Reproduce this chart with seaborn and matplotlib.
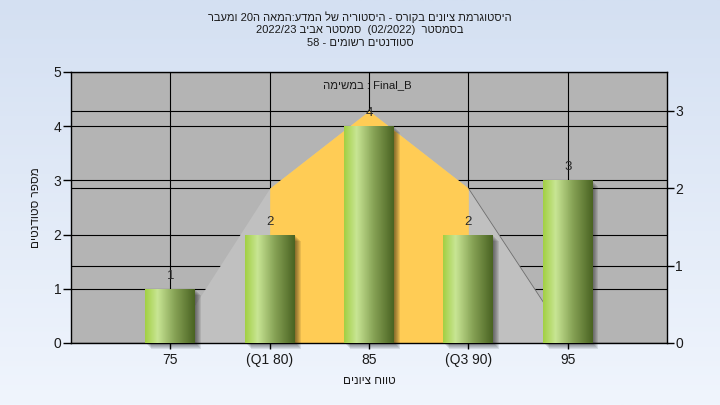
import re
import numpy as np
import pandas as pd
import matplotlib
matplotlib.use("Agg")
import matplotlib.pyplot as plt
import seaborn as sns
from matplotlib import transforms
from matplotlib.patches import Rectangle

# ---------------- data ----------------
categories = ["75", "(Q1 80)", "85", "(Q3 90)", "95"]
counts = [1, 2, 4, 2, 3]
curve = [0.0, 2.0, 3.0, 2.0, 0.05]          # right-axis (normal curve) values
quartile_mask = [False, True, True, True, False]
left_ticks = [0, 1, 2, 3, 4, 5]
right_ticks = [0, 1, 2, 3]

title_lines = [
    "היסטוגרמת ציונים בקורס - היסטוריה של המדע:המאה ה20 ומעבר",
    "בסמסטר  (02/2022)  סמסטר אביב 2022/23",
    "סטודנטים רשומים - 58",
]
series_word = "במשימה"
series_name = "Final_B"
x_label = "טווח ציונים"
y_label = "מספר סטודנטים"

MIRROR = {"(": ")", ")": "(", "[": "]", "]": "["}


def rtl(s):
    """Visual order of a right-to-left paragraph (matplotlib has no bidi)."""
    toks = re.findall(r"[A-Za-z0-9_]+(?:[/.,][A-Za-z0-9_]+)*|.", s)
    return "".join(MIRROR.get(t, t) for t in reversed(toks))


sns.set_theme(style="white")
plt.rcParams["font.family"] = ["Liberation Sans", "DejaVu Sans"]

fig = plt.figure(figsize=(7.2, 4.05), dpi=100)

# background gradient
bg = fig.add_axes([0, 0, 1, 1], zorder=-10)
top_c = np.array([212, 224, 242]) / 255
bot_c = np.array([240, 245, 253]) / 255
t = np.linspace(0, 1, 256)[:, None]
grad = (top_c[None, :] * (1 - t) + bot_c[None, :] * t)[:, None, :]
bg.imshow(grad, aspect="auto", extent=[0, 1, 0, 1])
bg.axis("off")

ax = fig.add_axes([71 / 720, 1 - 343 / 405, 596 / 720, 271 / 405])
ax.set_facecolor("#b4b4b4")

df = pd.DataFrame({"grade": categories, "count": counts})
sns.barplot(data=df, x="grade", y="count", ax=ax, width=0.5,
            color="#9acd32", saturation=1, zorder=3)

ax2 = ax.twinx()
ax2.patch.set_visible(False)

xpos = np.arange(len(categories))

# fills (right-axis scale) drawn on ax beneath bars
ax.fill_between(xpos, 0, curve, color="#c0c0c0", lw=0,
                transform=ax2.transData, zorder=1.0)
ax.fill_between(xpos, 0, curve, where=quartile_mask, color="#ffcc55", lw=0,
                transform=ax2.transData, zorder=1.1)
ax.plot(xpos[3:], curve[3:], color="#6e6e6e", lw=0.6,
        transform=ax2.transData, zorder=1.2)

# grid lines
ax.set_axisbelow(True)
ax.grid(True, axis="both", color="black", lw=0.8)
for gl in ax.get_xgridlines() + ax.get_ygridlines():
    gl.set_zorder(0.5)
blend = transforms.blended_transform_factory(ax.transAxes, ax2.transData)
ax.hlines(right_ticks, 0, 1, transform=blend, color="black", lw=0.8, zorder=0.6)

# bars: gradient + shadow
cmap = matplotlib.colors.LinearSegmentedColormap.from_list(
    "barg", [(0.0, "#a2d043"), (0.25, "#c8e594"), (0.6, "#86a255"), (1.0, "#4a6322")])
gimg = cmap(np.linspace(0, 1, 128))[None, :, :]
bars = list(ax.containers[0])
for p in bars:
    x0, y0 = p.get_x(), p.get_y()
    w, h = p.get_width(), p.get_height()
    for d in range(1, 7):
        off = transforms.ScaledTranslation(d / 100, -d / 100, fig.dpi_scale_trans)
        sh = Rectangle((x0, y0), w, h, transform=ax.transData + off,
                       facecolor="black", edgecolor="none", alpha=0.09,
                       zorder=2, clip_on=False)
        ax.add_patch(sh)
    p.set_facecolor("none")
    p.set_edgecolor("none")
    im = ax.imshow(gimg, extent=[x0, x0 + w, y0, y0 + h], aspect="auto",
                   zorder=3, interpolation="bilinear")
    im.set_clip_path(p)

ax.bar_label(ax.containers[0], labels=[str(c) for c in counts], padding=5,
             fontsize=9.5, color="#2a2a2a", zorder=4)

ax.set_xlim(-1, len(categories))
ax.set_ylim(left_ticks[0], left_ticks[-1])
ax2.set_ylim(0, 3.5)
ax.set_yticks(left_ticks)
ax2.set_yticks(right_ticks)
ax.set_xticks(xpos)
ax.set_xticklabels(categories)

for s in ax.spines.values():
    s.set_color("black")
    s.set_linewidth(1.0)
for s in ax2.spines.values():
    s.set_visible(False)

ax.tick_params(axis="y", left=True, direction="out", length=6, width=1,
               color="black", labelsize=10, pad=1, labelcolor="#1a1a1a")
ax.tick_params(axis="x", bottom=True, direction="out", length=4, width=1,
               color="black", labelsize=10, pad=3, labelcolor="#1a1a1a")
ax2.tick_params(axis="y", right=True, direction="out", length=5, width=1,
                color="black", labelsize=10, pad=1, labelcolor="#1a1a1a")
ax2.grid(False)

ax.set_xlabel(rtl(x_label), fontsize=8.5, labelpad=6, color="#1a1a1a")
ax.set_ylabel(rtl(y_label), fontsize=8.5, labelpad=8, color="#1a1a1a")

ax.text(0.497, 0.952, rtl(series_word) + " : " + series_name,
        transform=ax.transAxes, ha="center", va="center", fontsize=8.2,
        color="#1a1a1a", zorder=5)

for i, line in enumerate(title_lines):
    fig.text(0.5, 1 - (17 + 13 * i) / 405, rtl(line), ha="center", va="center",
             fontsize=8, color="#1a1a1a")

fig.savefig("out.png", dpi=100)
